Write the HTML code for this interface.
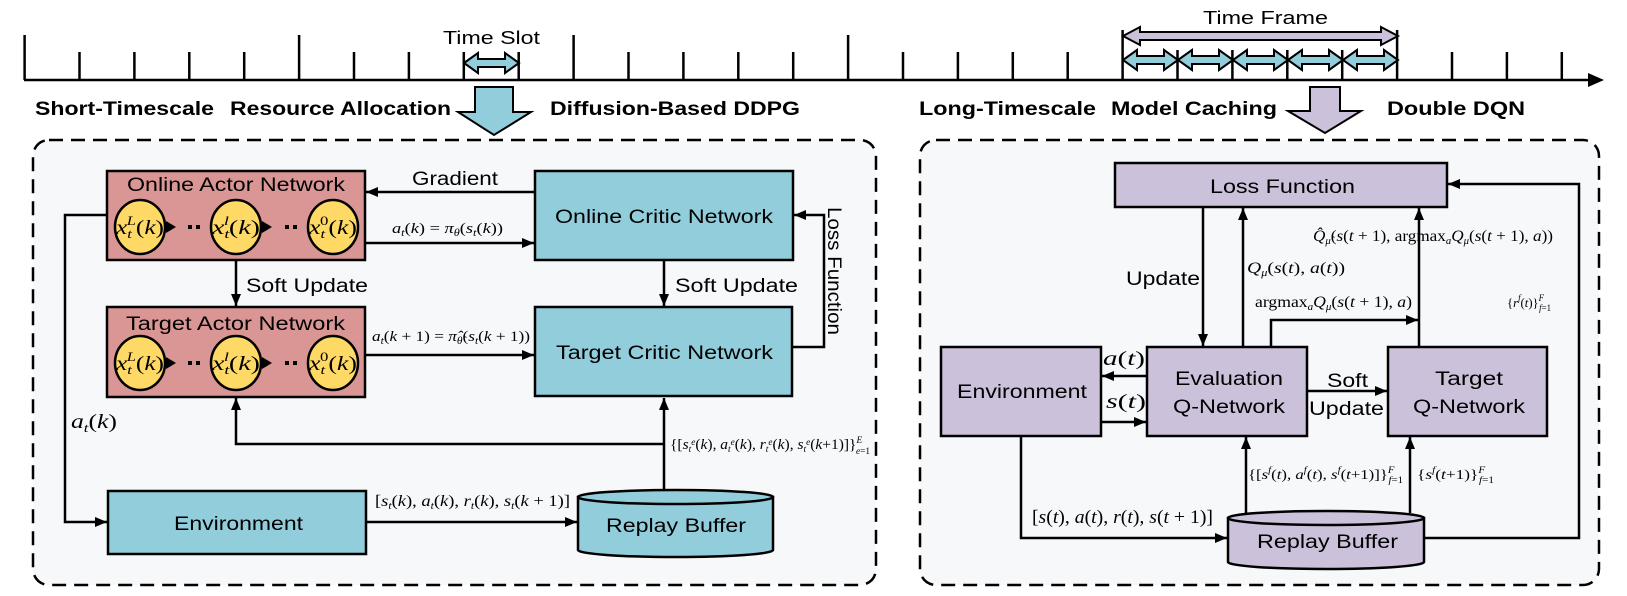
<!DOCTYPE html>
<html><head><meta charset="utf-8"><style>
html,body{margin:0;padding:0;background:#fff;}
svg{display:block;}
.t{font-family:"Liberation Sans",sans-serif;fill:#000;}
.b{font-family:"Liberation Sans",sans-serif;font-weight:bold;fill:#000;}
.m{font-family:"Liberation Serif",serif;fill:#000;}
.i{font-style:italic;}
</style></head><body>
<svg width="1627" height="596" viewBox="0 0 1627 596" xmlns="http://www.w3.org/2000/svg">
<defs>
<marker id="a" viewBox="0 0 12 10" refX="12" refY="5" markerWidth="12" markerHeight="10" markerUnits="userSpaceOnUse" orient="auto"><path d="M0 0L12 5L0 10Z" fill="#000"/></marker>
<path id="slot" d="M0 60L14 50L14 56L41 56L41 50L55 60L41 70L41 64L14 64L14 70Z" fill="#92cddc" stroke="#000" stroke-width="2"/>
</defs>
<rect width="1627" height="596" fill="#fff"/>
<!-- timeline -->
<g stroke="#000" stroke-width="2.5">
<line x1="24" y1="80" x2="1592" y2="80"/>
<line x1="24.6" y1="35" x2="24.6" y2="80"/><line x1="79.5" y1="52" x2="79.5" y2="80"/><line x1="134.4" y1="52" x2="134.4" y2="80"/><line x1="189.3" y1="52" x2="189.3" y2="80"/><line x1="244.2" y1="52" x2="244.2" y2="80"/>
<line x1="299.1" y1="35" x2="299.1" y2="80"/><line x1="354" y1="52" x2="354" y2="80"/><line x1="408.9" y1="52" x2="408.9" y2="80"/><line x1="463.8" y1="52" x2="463.8" y2="80"/><line x1="518.7" y1="52" x2="518.7" y2="80"/>
<line x1="573.6" y1="35" x2="573.6" y2="80"/><line x1="628.5" y1="52" x2="628.5" y2="80"/><line x1="683.4" y1="52" x2="683.4" y2="80"/><line x1="738.3" y1="52" x2="738.3" y2="80"/><line x1="793.2" y1="52" x2="793.2" y2="80"/>
<line x1="848.1" y1="35" x2="848.1" y2="80"/><line x1="903" y1="52" x2="903" y2="80"/><line x1="957.9" y1="52" x2="957.9" y2="80"/><line x1="1012.8" y1="52" x2="1012.8" y2="80"/><line x1="1067.7" y1="52" x2="1067.7" y2="80"/>
<line x1="1122.6" y1="30" x2="1122.6" y2="80"/><line x1="1177.5" y1="50" x2="1177.5" y2="80"/><line x1="1232.4" y1="50" x2="1232.4" y2="80"/><line x1="1287.3" y1="50" x2="1287.3" y2="80"/><line x1="1342.2" y1="50" x2="1342.2" y2="80"/>
<line x1="1397.1" y1="30" x2="1397.1" y2="80"/><line x1="1452" y1="52" x2="1452" y2="80"/><line x1="1506.9" y1="52" x2="1506.9" y2="80"/><line x1="1561.8" y1="52" x2="1561.8" y2="80"/>
</g>
<path d="M1588 73L1604 80L1588 87Z" fill="#000"/>
<path d="M464 63L478 53L478 59L505 59L505 53L519 63L505 73L505 67L478 67L478 73Z" fill="#92cddc" stroke="#000" stroke-width="2"/>
<text class="t" x="443" y="44" font-size="18" textLength="97" lengthAdjust="spacingAndGlyphs">Time Slot</text>
<use href="#slot" x="1123"/><use href="#slot" x="1178"/><use href="#slot" x="1233"/><use href="#slot" x="1288"/><use href="#slot" x="1343"/>
<path d="M1123 36L1140 27L1140 32L1381 32L1381 27L1398 36L1381 45L1381 40L1140 40L1140 45Z" fill="#ccc1da" stroke="#000" stroke-width="2"/>
<text class="t" x="1203" y="24" font-size="18" textLength="125" lengthAdjust="spacingAndGlyphs">Time Frame</text>
<!-- headings -->
<text class="b" x="35" y="115" font-size="19" textLength="179" lengthAdjust="spacingAndGlyphs">Short-Timescale</text>
<text class="b" x="230" y="115" font-size="19" textLength="221" lengthAdjust="spacingAndGlyphs">Resource Allocation</text>
<text class="b" x="550" y="115" font-size="19" textLength="250" lengthAdjust="spacingAndGlyphs">Diffusion-Based DDPG</text>
<text class="b" x="919" y="115" font-size="19" textLength="177" lengthAdjust="spacingAndGlyphs">Long-Timescale</text>
<text class="b" x="1111" y="115" font-size="19" textLength="166" lengthAdjust="spacingAndGlyphs">Model Caching</text>
<text class="b" x="1387" y="115" font-size="19" textLength="138" lengthAdjust="spacingAndGlyphs">Double DQN</text>
<path d="M475 87L513 87L513 112L531 112L494 135L458 112L475 112Z" fill="#92cddc" stroke="#000" stroke-width="2"/>
<path d="M1310 87L1340 87L1340 111L1361 111L1325 133L1288 111L1310 111Z" fill="#ccc1da" stroke="#000" stroke-width="2"/>
<!-- dashed boxes -->
<rect x="33" y="140" width="843" height="445" rx="16" fill="#f7f8fa" stroke="#000" stroke-width="2.5" stroke-dasharray="14 8"/>
<rect x="920" y="140" width="679" height="445" rx="16" fill="#f7f8fa" stroke="#000" stroke-width="2.5" stroke-dasharray="14 8"/>

<!-- LEFT diagram -->
<g stroke="#000" stroke-width="2.5">
<rect x="107" y="171" width="258" height="89" fill="#d99694"/>
<rect x="535" y="171" width="258" height="89" fill="#92cddc"/>
<rect x="107" y="307" width="258" height="90" fill="#d99694"/>
<rect x="535" y="307" width="257" height="89" fill="#92cddc"/>
<rect x="108" y="491" width="258" height="63" fill="#92cddc"/>
<path d="M578 497L578 550A97.5 7 0 0 0 773 550L773 497Z" fill="#92cddc"/>
<ellipse cx="675.5" cy="497" rx="97.5" ry="7" fill="#92cddc"/>
</g>
<g fill="#ffd966" stroke="#000" stroke-width="2.5">
<ellipse cx="140" cy="227" rx="25" ry="27"/><ellipse cx="236" cy="227" rx="25" ry="27"/><ellipse cx="333" cy="227" rx="25" ry="27"/>
<ellipse cx="140" cy="363" rx="25" ry="27"/><ellipse cx="236" cy="363" rx="25" ry="27"/><ellipse cx="333" cy="363" rx="25" ry="27"/>
</g>
<g fill="#000">
<path d="M166 221L176 227L166 233Z"/><rect x="188" y="225" width="4" height="4"/><rect x="196" y="225" width="4" height="4"/>
<path d="M262 221L272 227L262 233Z"/><rect x="285" y="225" width="4" height="4"/><rect x="293" y="225" width="4" height="4"/>
<path d="M166 357L176 363L166 369Z"/><rect x="188" y="361" width="4" height="4"/><rect x="196" y="361" width="4" height="4"/>
<path d="M262 357L272 363L262 369Z"/><rect x="285" y="361" width="4" height="4"/><rect x="293" y="361" width="4" height="4"/>
</g>
<g class="m i" font-size="20">
<text x="116" y="234" textLength="48" lengthAdjust="spacingAndGlyphs">x<tspan font-size="13" dy="4">t</tspan><tspan font-size="13" dx="-4" dy="-13">L</tspan><tspan dy="9" font-style="normal">(</tspan>k<tspan font-style="normal">)</tspan></text>
<text x="212" y="234" textLength="48" lengthAdjust="spacingAndGlyphs">x<tspan font-size="13" dy="4">t</tspan><tspan font-size="13" dx="-4" dy="-13">l</tspan><tspan dy="9" font-style="normal">(</tspan>k<tspan font-style="normal">)</tspan></text>
<text x="309" y="234" textLength="48" lengthAdjust="spacingAndGlyphs">x<tspan font-size="13" dy="4">t</tspan><tspan font-size="13" dx="-4" dy="-13" font-style="normal">0</tspan><tspan dy="9" font-style="normal">(</tspan>k<tspan font-style="normal">)</tspan></text>
<text x="116" y="370" textLength="48" lengthAdjust="spacingAndGlyphs">x<tspan font-size="13" dy="4">t</tspan><tspan font-size="13" dx="-4" dy="-13">L</tspan><tspan dy="9" font-style="normal">(</tspan>k<tspan font-style="normal">)</tspan></text>
<text x="212" y="370" textLength="48" lengthAdjust="spacingAndGlyphs">x<tspan font-size="13" dy="4">t</tspan><tspan font-size="13" dx="-4" dy="-13">l</tspan><tspan dy="9" font-style="normal">(</tspan>k<tspan font-style="normal">)</tspan></text>
<text x="309" y="370" textLength="48" lengthAdjust="spacingAndGlyphs">x<tspan font-size="13" dy="4">t</tspan><tspan font-size="13" dx="-4" dy="-13" font-style="normal">0</tspan><tspan dy="9" font-style="normal">(</tspan>k<tspan font-style="normal">)</tspan></text>
</g>
<g class="t" font-size="19">
<text x="127" y="191" textLength="218" lengthAdjust="spacingAndGlyphs">Online Actor Network</text>
<text x="555" y="223" textLength="218" lengthAdjust="spacingAndGlyphs">Online Critic Network</text>
<text x="126" y="330" textLength="219" lengthAdjust="spacingAndGlyphs">Target Actor Network</text>
<text x="556" y="359" textLength="217" lengthAdjust="spacingAndGlyphs">Target Critic Network</text>
<text x="174" y="530" textLength="129" lengthAdjust="spacingAndGlyphs">Environment</text>
<text x="606" y="532" textLength="140" lengthAdjust="spacingAndGlyphs">Replay Buffer</text>
<text x="412" y="185" textLength="86" lengthAdjust="spacingAndGlyphs">Gradient</text>
<text x="246" y="292" textLength="122" lengthAdjust="spacingAndGlyphs">Soft Update</text>
<text x="675" y="292" textLength="123" lengthAdjust="spacingAndGlyphs">Soft Update</text>
<text transform="translate(828,271) rotate(90)" text-anchor="middle" textLength="128" lengthAdjust="spacingAndGlyphs">Loss Function</text>
</g>
<g fill="none" stroke="#000" stroke-width="2.5" marker-end="url(#a)">
<line x1="535" y1="192" x2="366" y2="192"/>
<line x1="365" y1="243" x2="534" y2="243"/>
<line x1="236" y1="260" x2="236" y2="306"/>
<line x1="664" y1="260" x2="664" y2="306"/>
<line x1="365" y1="355" x2="534" y2="355"/>
<polyline points="792,347 824,347 824,215 794,215"/>
<line x1="664" y1="490" x2="664" y2="398"/>
<polyline points="664,444 236,444 236,398"/>
<polyline points="107,215 65,215 65,522 107,522"/>
<line x1="366" y1="522" x2="577" y2="522"/>
</g>
<g class="m" font-size="15">
<text x="392" y="233" textLength="111" lengthAdjust="spacingAndGlyphs"><tspan class="i">a</tspan><tspan font-size="10" dy="3" class="i">t</tspan><tspan dy="-3">(</tspan><tspan class="i">k</tspan>) = <tspan class="i">π</tspan><tspan font-size="10" dy="3" class="i">θ</tspan><tspan dy="-3">(</tspan><tspan class="i">s</tspan><tspan font-size="10" dy="3" class="i">t</tspan><tspan dy="-3">(</tspan><tspan class="i">k</tspan>))</text>
<text x="372" y="341" textLength="158" lengthAdjust="spacingAndGlyphs"><tspan class="i">a</tspan><tspan font-size="10" dy="3" class="i">t</tspan><tspan dy="-3">(</tspan><tspan class="i">k</tspan> + 1) = <tspan class="i">π̂</tspan><tspan font-size="10" dy="3" class="i">θ̂</tspan><tspan dy="-3">(</tspan><tspan class="i">s</tspan><tspan font-size="10" dy="3" class="i">t</tspan><tspan dy="-3">(</tspan><tspan class="i">k</tspan> + 1))</text>
<text x="670" y="449" textLength="200" lengthAdjust="spacingAndGlyphs">{[<tspan class="i">s</tspan><tspan font-size="9" dy="3" class="i">t</tspan><tspan font-size="9" dy="-7" class="i">e</tspan><tspan dy="4">(</tspan><tspan class="i">k</tspan>), <tspan class="i">a</tspan><tspan font-size="9" dy="3" class="i">t</tspan><tspan font-size="9" dy="-7" class="i">e</tspan><tspan dy="4">(</tspan><tspan class="i">k</tspan>), <tspan class="i">r</tspan><tspan font-size="9" dy="3" class="i">t</tspan><tspan font-size="9" dy="-7" class="i">e</tspan><tspan dy="4">(</tspan><tspan class="i">k</tspan>), <tspan class="i">s</tspan><tspan font-size="9" dy="3" class="i">t</tspan><tspan font-size="9" dy="-7" class="i">e</tspan><tspan dy="4">(</tspan><tspan class="i">k</tspan>+1)]}<tspan font-size="9" dy="-6" class="i">E</tspan><tspan font-size="9" dx="-6" dy="11"><tspan class="i">e</tspan>=1</tspan></text>
<text x="375" y="506" font-size="16" textLength="195" lengthAdjust="spacingAndGlyphs">[<tspan class="i">s</tspan><tspan font-size="10" dy="3" class="i">t</tspan><tspan dy="-3">(</tspan><tspan class="i">k</tspan>), <tspan class="i">a</tspan><tspan font-size="10" dy="3" class="i">t</tspan><tspan dy="-3">(</tspan><tspan class="i">k</tspan>), <tspan class="i">r</tspan><tspan font-size="10" dy="3" class="i">t</tspan><tspan dy="-3">(</tspan><tspan class="i">k</tspan>), <tspan class="i">s</tspan><tspan font-size="10" dy="3" class="i">t</tspan><tspan dy="-3">(</tspan><tspan class="i">k</tspan> + 1)]</text>
<text x="71" y="428" font-size="20" textLength="46" lengthAdjust="spacingAndGlyphs"><tspan class="i">a</tspan><tspan font-size="13" dy="4" class="i">t</tspan><tspan dy="-4">(</tspan><tspan class="i">k</tspan>)</text>
</g>

<!-- RIGHT diagram -->
<g stroke="#000" stroke-width="2.5" fill="#ccc1da">
<rect x="1115" y="163" width="332" height="44"/>
<rect x="941" y="347" width="160" height="89"/>
<rect x="1147" y="347" width="160" height="89"/>
<rect x="1388" y="347" width="159" height="89"/>
<path d="M1228 518L1228 562A98 7 0 0 0 1424 562L1424 518Z"/>
<ellipse cx="1326" cy="518" rx="98" ry="7"/>
</g>
<g class="t" font-size="19">
<text x="1210" y="193" textLength="145" lengthAdjust="spacingAndGlyphs">Loss Function</text>
<text x="957" y="398" textLength="130" lengthAdjust="spacingAndGlyphs">Environment</text>
<text x="1175" y="385" textLength="108" lengthAdjust="spacingAndGlyphs">Evaluation</text>
<text x="1173" y="413" textLength="112" lengthAdjust="spacingAndGlyphs">Q-Network</text>
<text x="1435" y="385" textLength="68" lengthAdjust="spacingAndGlyphs">Target</text>
<text x="1413" y="413" textLength="112" lengthAdjust="spacingAndGlyphs">Q-Network</text>
<text x="1327" y="387" textLength="41" lengthAdjust="spacingAndGlyphs">Soft</text>
<text x="1309" y="415" textLength="75" lengthAdjust="spacingAndGlyphs">Update</text>
<text x="1126" y="285" textLength="74" lengthAdjust="spacingAndGlyphs">Update</text>
<text x="1257" y="548" textLength="141" lengthAdjust="spacingAndGlyphs">Replay Buffer</text>
</g>
<g fill="none" stroke="#000" stroke-width="2.5" marker-end="url(#a)">
<line x1="1203" y1="207" x2="1203" y2="346"/>
<line x1="1243" y1="347" x2="1243" y2="208"/>
<line x1="1419" y1="347" x2="1419" y2="208"/>
<polyline points="1271,347 1271,320 1418,320"/>
<polyline points="1424,538 1579,538 1579,184 1448,184"/>
<line x1="1147" y1="376" x2="1102" y2="376"/>
<line x1="1101" y1="422" x2="1146" y2="422"/>
<line x1="1307" y1="391" x2="1387" y2="391"/>
<line x1="1246" y1="513" x2="1246" y2="437"/>
<line x1="1410" y1="513" x2="1410" y2="437"/>
<polyline points="1021,436 1021,538 1227,538"/>
</g>
<g class="m" font-size="16">
<text x="1313" y="241" textLength="240" lengthAdjust="spacingAndGlyphs"><tspan class="i">Q̂</tspan><tspan font-size="10" dy="3" class="i">μ̂</tspan><tspan dy="-3">(</tspan><tspan class="i">s</tspan>(<tspan class="i">t</tspan> + 1), argmax<tspan font-size="10" dy="3" class="i">a</tspan><tspan dy="-3" class="i">Q</tspan><tspan font-size="10" dy="3" class="i">μ</tspan><tspan dy="-3">(</tspan><tspan class="i">s</tspan>(<tspan class="i">t</tspan> + 1), <tspan class="i">a</tspan>))</text>
<text x="1247" y="273" textLength="98" lengthAdjust="spacingAndGlyphs"><tspan class="i">Q</tspan><tspan font-size="10" dy="3" class="i">μ</tspan><tspan dy="-3">(</tspan><tspan class="i">s</tspan>(<tspan class="i">t</tspan>), <tspan class="i">a</tspan>(<tspan class="i">t</tspan>))</text>
<text x="1255" y="307" textLength="157" lengthAdjust="spacingAndGlyphs">argmax<tspan font-size="10" dy="3" class="i">a</tspan><tspan dy="-3" class="i">Q</tspan><tspan font-size="10" dy="3" class="i">μ</tspan><tspan dy="-3">(</tspan><tspan class="i">s</tspan>(<tspan class="i">t</tspan> + 1), <tspan class="i">a</tspan>)</text>
<text x="1507" y="307" font-size="13" textLength="44" lengthAdjust="spacingAndGlyphs">{<tspan class="i">r</tspan><tspan font-size="9" dy="-6" class="i">f</tspan><tspan dy="6">(</tspan><tspan class="i">t</tspan>)}<tspan font-size="9" dy="-6" class="i">F</tspan><tspan font-size="9" dx="-5" dy="10"><tspan class="i">f</tspan>=1</tspan></text>
<text x="1103" y="365" font-size="20" textLength="42" lengthAdjust="spacingAndGlyphs"><tspan class="i">a</tspan>(<tspan class="i">t</tspan>)</text>
<text x="1106" y="408" font-size="20" textLength="40" lengthAdjust="spacingAndGlyphs"><tspan class="i">s</tspan>(<tspan class="i">t</tspan>)</text>
<text x="1248" y="479" font-size="14" textLength="155" lengthAdjust="spacingAndGlyphs">{[<tspan class="i">s</tspan><tspan font-size="9" dy="-6" class="i">f</tspan><tspan dy="6">(</tspan><tspan class="i">t</tspan>), <tspan class="i">a</tspan><tspan font-size="9" dy="-6" class="i">f</tspan><tspan dy="6">(</tspan><tspan class="i">t</tspan>), <tspan class="i">s</tspan><tspan font-size="9" dy="-6" class="i">f</tspan><tspan dy="6">(</tspan><tspan class="i">t</tspan>+1)]}<tspan font-size="9" dy="-6" class="i">F</tspan><tspan font-size="9" dx="-5" dy="10"><tspan class="i">f</tspan>=1</tspan></text>
<text x="1417" y="479" font-size="14" textLength="77" lengthAdjust="spacingAndGlyphs">{<tspan class="i">s</tspan><tspan font-size="9" dy="-6" class="i">f</tspan><tspan dy="6">(</tspan><tspan class="i">t</tspan>+1)}<tspan font-size="9" dy="-6" class="i">F</tspan><tspan font-size="9" dx="-5" dy="10"><tspan class="i">f</tspan>=1</tspan></text>
<text x="1032" y="523" font-size="19" textLength="181" lengthAdjust="spacingAndGlyphs">[<tspan class="i">s</tspan>(<tspan class="i">t</tspan>), <tspan class="i">a</tspan>(<tspan class="i">t</tspan>), <tspan class="i">r</tspan>(<tspan class="i">t</tspan>), <tspan class="i">s</tspan>(<tspan class="i">t</tspan> + 1)]</text>
</g>
</svg>
</body></html>
